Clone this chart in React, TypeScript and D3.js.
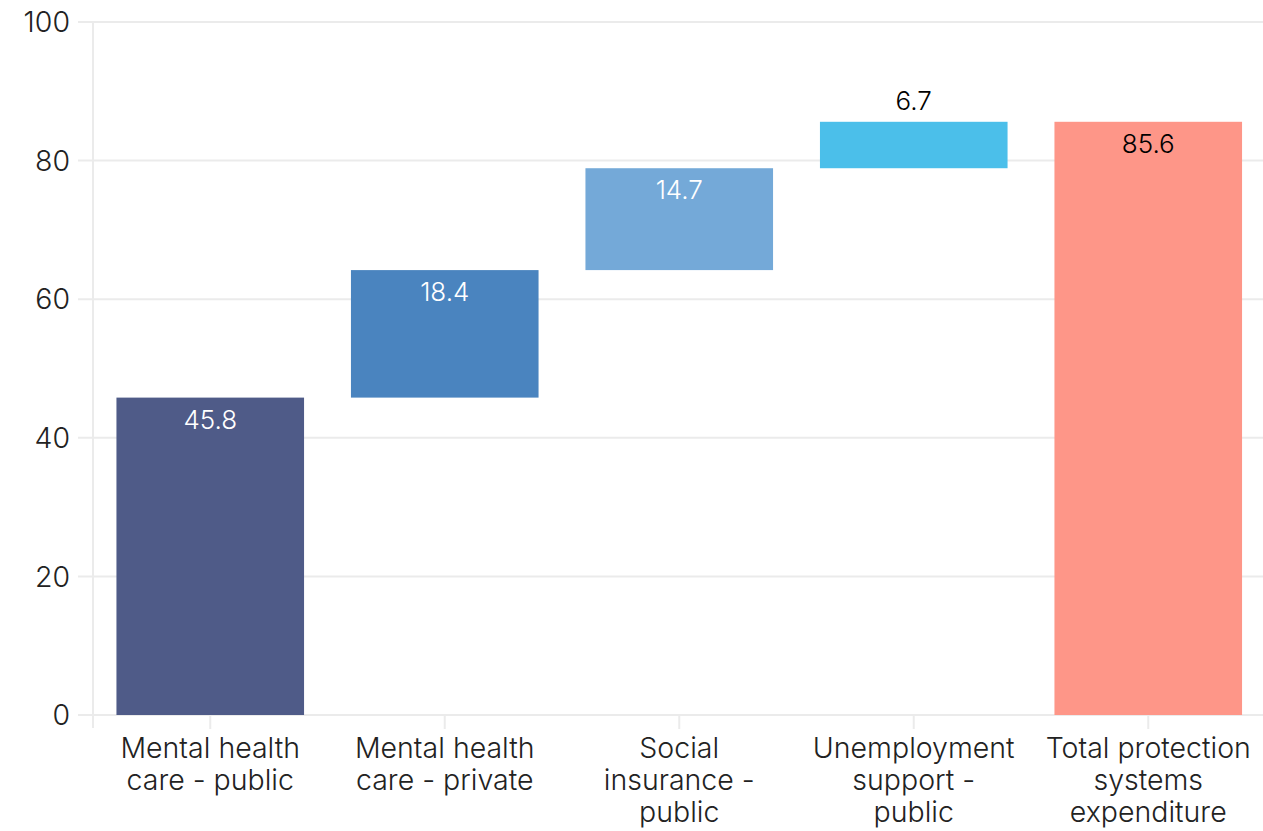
import React from "react";
import * as d3 from "d3";

const categories = [
  ["Mental health", "care - public"],
  ["Mental health", "care - private"],
  ["Social", "insurance -", "public"],
  ["Unemployment", "support -", "public"],
  ["Total protection", "systems", "expenditure"],
];
const values = [45.8, 18.4, 14.7, 6.7, 85.6];
const isTotal = [false, false, false, false, true];
const colors = ["#4f5b88", "#4a84bf", "#74a9d8", "#4bbfea", "#fe9688"];
const labelColors = ["#ffffff", "#ffffff", "#ffffff", "#000000", "#000000"];
const labelOutside = [false, false, false, true, false];
const yTicks = [0, 20, 40, 60, 80, 100];

const W = 1263;
const H = 831;
const FONT = "Inter, 'Noto Sans', sans-serif";

export default function App() {
  const x = d3
    .scaleBand<number>()
    .domain(values.map((_, i) => i))
    .range([93, 1265.5])
    .paddingInner(0.2)
    .paddingOuter(0.1);
  const y = d3.scaleLinear().domain([0, 100]).range([715, 22]);

  let run = 0;
  const bars = values.map((v, i) => {
    let lo: number, hi: number;
    if (isTotal[i]) {
      lo = 0;
      hi = v;
    } else {
      lo = run;
      hi = run + v;
      run = hi;
    }
    return { lo, hi, v, i };
  });

  return (
    <svg
      width={W}
      height={H}
      style={{ position: "absolute", left: 0, top: 0, background: "#fff" }}
      fontFamily={FONT}
    >
      {yTicks.map((t) => (
        <g key={t}>
          <line x1={78} x2={W} y1={y(t)} y2={y(t)} stroke="#ebebeb" strokeWidth={2} />
          <text
            x={70}
            y={y(t)}
            dy="0.36em"
            textAnchor="end"
            fontSize={28.5}
            fontWeight={300}
            fill="#222"
          >
            {t}
          </text>
        </g>
      ))}
      <line x1={93} x2={93} y1={y(100)} y2={728} stroke="#ebebeb" strokeWidth={2} />
      {values.map((_, i) => {
        const cx = (x(i) as number) + x.bandwidth() / 2;
        return (
          <line key={i} x1={cx} x2={cx} y1={y(0)} y2={729} stroke="#ebebeb" strokeWidth={2} />
        );
      })}
      {bars.map((b) => {
        const x0 = x(b.i) as number;
        const top = y(b.hi);
        const cx = x0 + x.bandwidth() / 2;
        return (
          <g key={b.i}>
            <rect
              x={x0}
              y={top}
              width={x.bandwidth()}
              height={y(b.lo) - top}
              fill={colors[b.i]}
            />
            <text
              x={cx}
              y={labelOutside[b.i] ? top - 12 : top + 31}
              textAnchor="middle"
              fontSize={26}
              fontWeight={300}
              fill={labelColors[b.i]}
            >
              {b.v.toFixed(1)}
            </text>
          </g>
        );
      })}
      {categories.map((lines, i) => {
        const cx = (x(i) as number) + x.bandwidth() / 2;
        return (
          <text
            key={i}
            x={cx}
            textAnchor="middle"
            fontSize={28.5}
            fontWeight={300}
            fill="#222"
          >
            {lines.map((l, j) => (
              <tspan key={j} x={cx} y={758 + j * 32}>
                {l}
              </tspan>
            ))}
          </text>
        );
      })}
    </svg>
  );
}
